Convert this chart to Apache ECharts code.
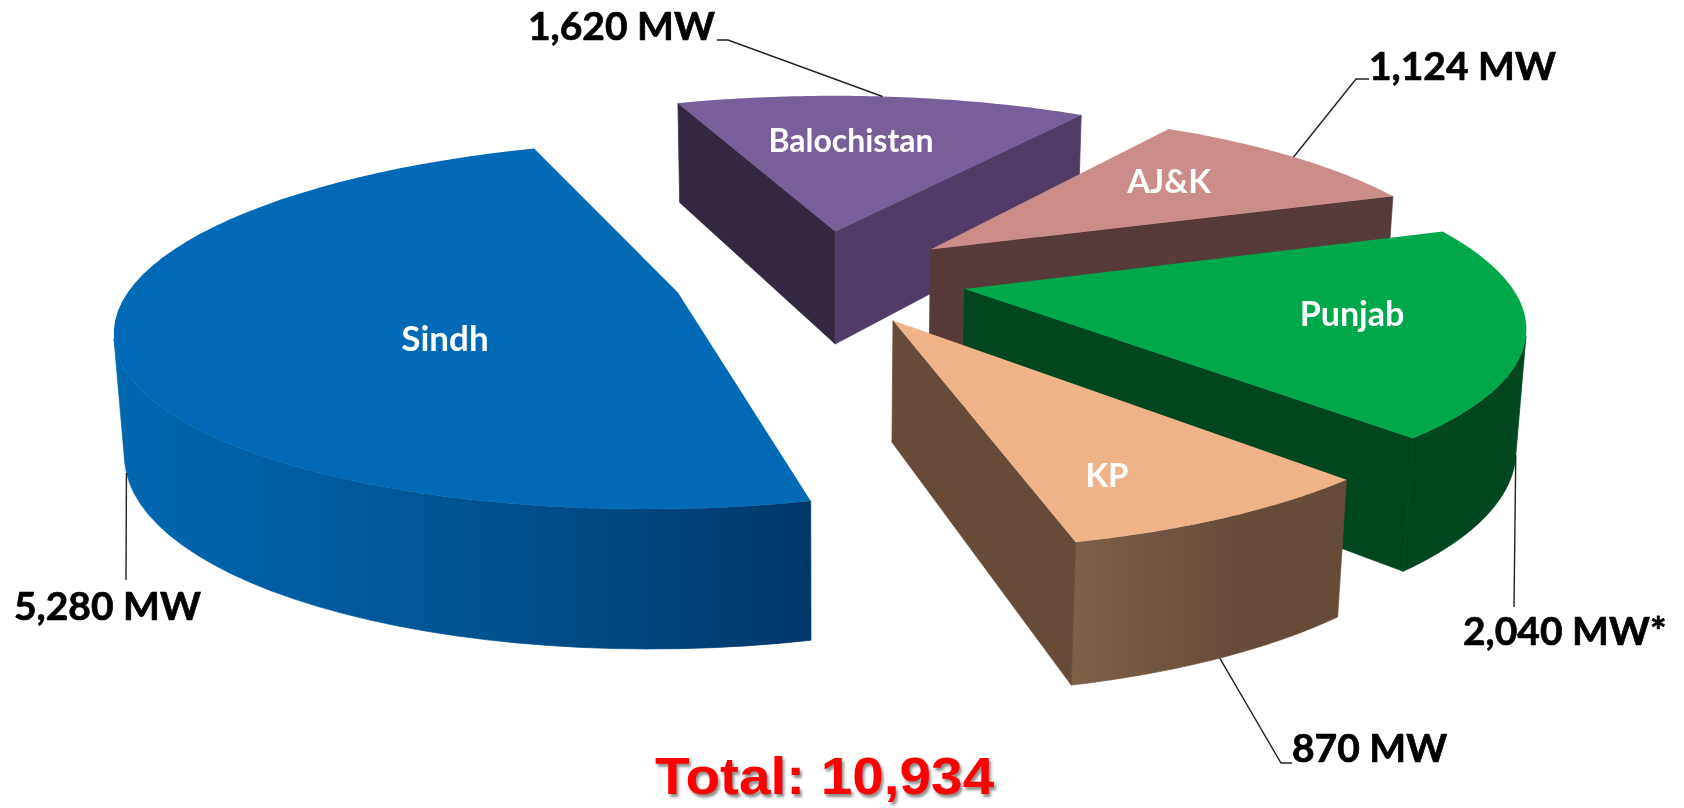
<!DOCTYPE html>
<html>
<head>
<meta charset="utf-8">
<style>html,body{margin:0;background:#fff}#main{width:1684px;height:808px}</style>
<script src="https://cdn.jsdelivr.net/npm/echarts@6/dist/echarts.min.js"></script>
</head>
<body>
<div id="main"></div>
<script>
const categories = ['Balochistan', 'AJ&K', 'Punjab', 'KP', 'Sindh'];
const capacityMW = [1620, 1124, 2040, 870, 5280];
const valueLabels = ['1,620 MW', '1,124 MW', '2,040 MW*', '870 MW', '5,280 MW'];
const totalLabel = 'Total: 10,934';

// camera of the fake 3d pie
const camX = 825.542, camY = 340.304, focal = 2949.078, camDist = 3.778, tilt = 0.347;
const startAngle = -0.356, radius = 0.738, thickness = 0.171;
// how far every slice is pulled out of the pie, ground plane units
const sliceShift = [[0.014, 0.457], [0.147, 0.374], [0.187, 0.203], [0.088, 0.076], [-0.198, 0.189]];

const topColors = ['#795f99', '#cc8c89', '#00a84c', '#efb387', '#006ab7'];
const startWall = ['#33283f', '#573a3a', '#00461f', '#654b38', '#00396b'];
const endWall = ['#503c64', '#573a3a', '#00461f', '#654b38', '#00396b'];
const arcWall = ['#503c64', '#573a3a', '#00461f',
  { type: 'linear', x: 1074, y: 0, x2: 1346, y2: 0, global: true, colorStops: [{ offset: 0, color: '#7d6048' }, { offset: 0.6, color: '#664c39' }, { offset: 1, color: '#654b38' }] },
  { type: 'linear', x: 113, y: 0, x2: 811, y2: 0, global: true, colorStops: [{ offset: 0, color: '#0068b0' }, { offset: 0.5, color: '#005392' }, { offset: 1, color: '#00386a' }] }];

// label places, px
const innerLabelPos = [[851, 142], [1169, 182], [1352, 315], [1107, 476], [445, 340]];
const innerFontSize = [32, 33, 34, 33, 35];
const outerLabelPos = [[528, 27], [1369, 67], [1463, 632], [1292, 749], [14, 607]];
// leader: depth of its start on the slice (0 top, 1 bottom), then the points after it
const leaderDepth = [0, 0, 1, 1, 1];
const leaderRest = [
  [[728, 40], [717, 40]],
  [[1356, 79], [1369, 79]],
  [[1514, 607]],
  [[1281, 763], [1292, 763]],
  [[126, 580]]
];

const total = capacityMW.reduce((a, b) => a + b, 0);
const ARC = 60;

function sliceAngles() {
  let out = [], a = startAngle;
  capacityMW.forEach(function (v) {
    let s = v / total * Math.PI * 2;
    out.push([a, a + s]);
    a += s;
  });
  return out;
}
const angles = sliceAngles();

function project(X, Y, Z) {
  let st = Math.sin(tilt), ct = Math.cos(tilt);
  let yc = Y * st + Z * ct, zc = camDist + Y * ct - Z * st;
  return [camX + focal * X / zc, camY - focal * yc / zc];
}

function area(pts) {
  let s = 0;
  pts.forEach(function (a, i) {
    let b = pts[(i + 1) % pts.length];
    s += a[0] * b[1] - b[0] * a[1];
  });
  return s;
}

function wall(points, color) {
  return { type: 'polygon', shape: { points: points }, style: { fill: color, stroke: color, lineWidth: 0.7 } };
}

function renderSlice(params, api) {
  let i = params.dataIndex, a0 = angles[i][0], a1 = angles[i][1];
  let ox = sliceShift[i][0], oy = sliceShift[i][1];
  let topArc = [], botArc = [];
  for (let k = 0; k <= ARC; k++) {
    let a = a0 + (a1 - a0) * k / ARC;
    let X = ox + radius * Math.sin(a), Y = oy + radius * Math.cos(a);
    topArc.push(project(X, Y, 0));
    botArc.push(project(X, Y, -thickness));
  }
  let apex = project(ox, oy, 0), apexB = project(ox, oy, -thickness);
  let children = [];
  // outer wall: one polygon over the run of steps that face the camera
  let first = -1, last = -1;
  for (let k = 0; k < ARC; k++) {
    if (area([topArc[k], topArc[k + 1], botArc[k + 1], botArc[k]]) < 0) {
      if (first < 0) first = k;
      last = k + 1;
    }
  }
  if (first >= 0) {
    children.push(wall(topArc.slice(first, last + 1).concat(botArc.slice(first, last + 1).reverse()), arcWall[i]));
  }
  let wStart = [apex, topArc[0], botArc[0], apexB], wEnd = [topArc[ARC], apex, apexB, botArc[ARC]];
  if (area(wStart) < 0) children.push(wall(wStart, startWall[i]));
  if (area(wEnd) < 0) children.push(wall(wEnd, endWall[i]));
  children.push({ type: 'polygon', shape: { points: [apex].concat(topArc) }, style: { fill: topColors[i] } });

  // leader line from the middle of the arc
  let mid = (a0 + a1) / 2;
  let start = project(ox + radius * Math.sin(mid), oy + radius * Math.cos(mid), -leaderDepth[i] * thickness);
  children.push({ type: 'polyline', shape: { points: [start].concat(leaderRest[i]) }, style: { fill: null, stroke: '#222', lineWidth: 1.4 } });

  children.push({
    type: 'text',
    style: { text: categories[i], x: innerLabelPos[i][0], y: innerLabelPos[i][1], fill: '#fff', font: 'bold ' + innerFontSize[i] + 'px Lato', align: 'center', verticalAlign: 'middle' }
  });
  children.push({
    type: 'text',
    style: { text: valueLabels[i], x: outerLabelPos[i][0], y: outerLabelPos[i][1], fill: '#000', stroke: '#000', lineWidth: 0.7, font: 'bold 39px Lato', align: 'left', verticalAlign: 'middle' }
  });
  return { type: 'group', children: children };
}

const myChart = echarts.init(document.getElementById('main'));
myChart.setOption({
  backgroundColor: '#fff',
  animation: false,
  graphic: [{
    type: 'text', x: 655, y: 780, scaleX: 1.09, z: 10,
    style: { text: totalLabel, fill: '#f00', font: 'bold 52px "Liberation Sans"', align: 'left', verticalAlign: 'middle', textShadowColor: 'rgba(0,0,0,0.45)', textShadowBlur: 3, textShadowOffsetX: 2, textShadowOffsetY: 3 }
  }],
  series: [{
    type: 'custom', coordinateSystem: 'none', renderItem: renderSlice, silent: true,
    data: capacityMW.map(function (v, i) { return { value: v, name: categories[i] }; })
  }]
});
</script>
</body>
</html>
